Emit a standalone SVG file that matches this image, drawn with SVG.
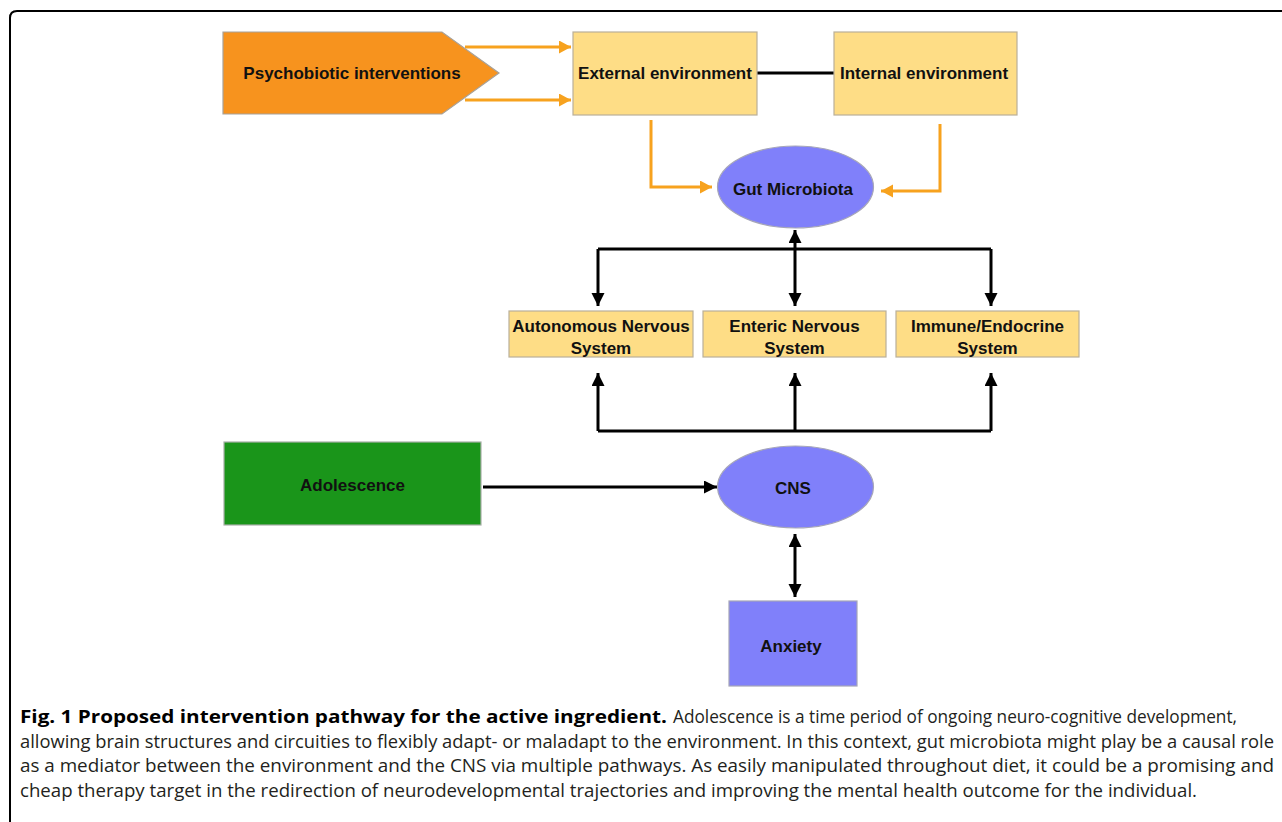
<svg xmlns="http://www.w3.org/2000/svg" width="1282" height="822" viewBox="0 0 1282 822">
<style>
.lbl{font-family:"Liberation Sans",Arial,sans-serif;font-weight:bold;font-size:17px;fill:#111;text-anchor:middle}
.yb{fill:#FEDD86;stroke:#B9B09A;stroke-width:1.2}
.pu{fill:#8080FA;stroke:#A6A6B8;stroke-width:1.2}
.ol{fill:none;stroke:#F7A21E;stroke-width:3}
.bl{fill:none;stroke:#000;stroke-width:3}
.cap{font-family:"Open Sans","Noto Sans",sans-serif;font-size:17px;fill:#231F20}
.capb{font-family:"Open Sans","Noto Sans",sans-serif;font-size:17px;font-weight:bold;fill:#000}
</style>
<defs>
<marker id="ao" markerUnits="userSpaceOnUse" markerWidth="14" markerHeight="14" refX="12" refY="6.5" orient="auto"><path d="M0,0 L12,6.5 L0,13 z" fill="#F7A21E"/></marker>
<marker id="ab" markerUnits="userSpaceOnUse" markerWidth="14" markerHeight="14" refX="13" refY="6.5" orient="auto-start-reverse"><path d="M0,0 L13,6.5 L0,13 z" fill="#000"/></marker>
</defs>
<rect width="1282" height="822" fill="#fff"/>
<path d="M10,822 V18 Q10,11 17,11 H1282" fill="none" stroke="#000" stroke-width="2"/>

<g id="connectors">
<path class="ol" d="M465,47 H571" marker-end="url(#ao)"/>
<path class="ol" d="M465,100 H571" marker-end="url(#ao)"/>
<path class="ol" d="M651,120 V187 H712" marker-end="url(#ao)"/>
<path class="ol" d="M940,124 V191 H881" marker-end="url(#ao)"/>
<path class="bl" d="M757,73 H834"/>
<path class="bl" d="M598,249 H991"/>
<path class="bl" d="M598,249 V306" marker-end="url(#ab)"/>
<path class="bl" d="M991,249 V306" marker-end="url(#ab)"/>
<path class="bl" d="M795,230 V306" marker-start="url(#ab)" marker-end="url(#ab)"/>
<path class="bl" d="M598,431 H991"/>
<path class="bl" d="M598,431 V373" marker-end="url(#ab)"/>
<path class="bl" d="M795,431 V373" marker-end="url(#ab)"/>
<path class="bl" d="M991,431 V373" marker-end="url(#ab)"/>
<path class="bl" d="M483,487 H717" marker-end="url(#ab)"/>
<path class="bl" d="M795,534 V597" marker-start="url(#ab)" marker-end="url(#ab)"/>
</g>

<g id="psychobiotic">
<path d="M223,32 H442 L499,73 L442,114 H223 Z" fill="#F7931E" stroke="#A8A29A" stroke-width="1.2"/>
<text class="lbl" x="352" y="79">Psychobiotic interventions</text>
</g>
<g id="external">
<rect class="yb" x="573" y="32" width="184" height="83"/>
<text class="lbl" x="665" y="79">External environment</text>
</g>
<g id="internal">
<rect class="yb" x="834" y="32" width="183" height="83"/>
<text class="lbl" x="924" y="79">Internal environment</text>
</g>
<g id="gut">
<ellipse class="pu" cx="795.5" cy="187" rx="78" ry="41"/>
<text class="lbl" x="793" y="195">Gut Microbiota</text>
</g>
<g id="ans">
<rect class="yb" x="509" y="311" width="184" height="46"/>
<text class="lbl" x="601" y="332">Autonomous Nervous</text>
<text class="lbl" x="601" y="354">System</text>
</g>
<g id="ens">
<rect class="yb" x="703" y="311" width="183" height="46"/>
<text class="lbl" x="794.5" y="332">Enteric Nervous</text>
<text class="lbl" x="794.5" y="354">System</text>
</g>
<g id="immune">
<rect class="yb" x="896" y="311" width="183" height="46"/>
<text class="lbl" x="987.5" y="332">Immune/Endocrine</text>
<text class="lbl" x="987.5" y="354">System</text>
</g>
<g id="adolescence">
<rect x="224" y="442" width="257" height="83" fill="#1A951A" stroke="#A8B0A8" stroke-width="1.2"/>
<text class="lbl" x="352.5" y="491">Adolescence</text>
</g>
<g id="cns">
<ellipse class="pu" cx="795.5" cy="487" rx="78" ry="41"/>
<text class="lbl" x="793" y="494">CNS</text>
</g>
<g id="anxiety">
<rect class="pu" x="729" y="601" width="128" height="85"/>
<text class="lbl" x="791" y="652">Anxiety</text>
</g>

<g id="caption" transform="scale(1,1.09)">
<text class="capb" x="20" y="663.3" textLength="647" lengthAdjust="spacingAndGlyphs">Fig. 1 Proposed intervention pathway for the active ingredient.</text>
<text class="cap" x="673" y="663.3" textLength="564" lengthAdjust="spacingAndGlyphs">Adolescence is a time period of ongoing neuro-cognitive development,</text>
<text class="cap" x="20" y="686.2" textLength="1254" lengthAdjust="spacingAndGlyphs">allowing brain structures and circuities to flexibly adapt- or maladapt to the environment. In this context, gut microbiota might play be a causal role</text>
<text class="cap" x="20" y="708.3" textLength="1254" lengthAdjust="spacingAndGlyphs">as a mediator between the environment and the CNS via multiple pathways. As easily manipulated throughout diet, it could be a promising and</text>
<text class="cap" x="20" y="731.2" textLength="1177" lengthAdjust="spacingAndGlyphs">cheap therapy target in the redirection of neurodevelopmental trajectories and improving the mental health outcome for the individual.</text>
</g>
</svg>
